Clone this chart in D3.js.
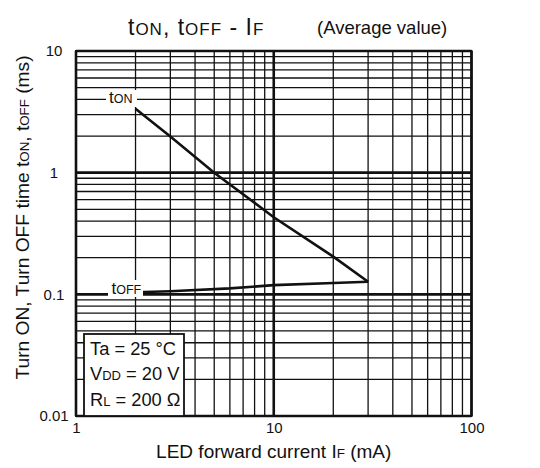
<!DOCTYPE html>
<html>
<head>
<meta charset="utf-8">
<script src="https://cdn.jsdelivr.net/npm/d3@7"></script>
<style>
  body { margin: 0; background: #fff; }
  svg { display: block; font-family: "Liberation Sans", Arial, Helvetica, sans-serif; }
</style>
</head>
<body>
<svg id="chart"></svg>
<script>
// values
const currentTicks = [1, 10, 100];            // IF (mA)
const timeTicks = [0.01, 0.1, 1, 10];         // t (ms)
const tonCurrent = [2, 3, 5, 10, 20, 30];
const tonTime = [3.35, 1.98, 1.0, 0.43, 0.204, 0.127];
const toffCurrent = [2, 3, 6, 10, 20, 30];
const toffTime = [0.104, 0.106, 0.112, 0.119, 0.124, 0.127];
const conditions = [["Ta", "", " = 25 °C"], ["V", "DD", " = 20 V"], ["R", "L", " = 200 Ω"]];

const width = 540, height = 468;
const margin = {left: 76, right: 68.5, top: 51, bottom: 52};

const svg = d3.select("#chart")
    .attr("width", width)
    .attr("height", height)
    .attr("viewBox", [0, 0, width, height]);

const x = d3.scaleLog().domain([1, 100]).range([margin.left, width - margin.right]);
const y = d3.scaleLog().domain([0.01, 10]).range([height - margin.bottom, margin.top]);

const isMajor = v => Math.abs(Math.log10(v) - Math.round(Math.log10(v))) < 1e-9;

// grid
const grid = svg.append("g").attr("stroke", "#111");
grid.selectAll("line.v")
    .data(x.ticks())
    .join("line")
    .attr("class", "v")
    .attr("x1", d => x(d)).attr("x2", d => x(d))
    .attr("y1", y.range()[0]).attr("y2", y.range()[1])
    .attr("stroke-width", d => isMajor(d) ? 2.6 : 1.3);
grid.selectAll("line.h")
    .data(y.ticks())
    .join("line")
    .attr("class", "h")
    .attr("y1", d => y(d)).attr("y2", d => y(d))
    .attr("x1", x.range()[0]).attr("x2", x.range()[1])
    .attr("stroke-width", d => isMajor(d) ? 2.6 : 1.3);

// frame
svg.append("rect")
    .attr("x", x.range()[0]).attr("y", y.range()[1])
    .attr("width", x.range()[1] - x.range()[0])
    .attr("height", y.range()[0] - y.range()[1])
    .attr("fill", "none").attr("stroke", "#111").attr("stroke-width", 2);

// curves
const line = d3.line().x(d => x(d[0])).y(d => y(d[1]));
svg.append("path")
    .attr("d", line(d3.zip(tonCurrent, tonTime)))
    .attr("fill", "none").attr("stroke", "#111").attr("stroke-width", 2.6);
svg.append("path")
    .attr("d", line(d3.zip(toffCurrent, toffTime)))
    .attr("fill", "none").attr("stroke", "#111").attr("stroke-width", 2.6);

// axes (labels only)
const xAxis = svg.append("g")
    .attr("transform", `translate(0,${y.range()[0]})`)
    .call(d3.axisBottom(x).tickValues(currentTicks).tickSize(0).tickPadding(6).tickFormat(d => d));
xAxis.select(".domain").remove();
xAxis.selectAll("text").attr("font-size", 15).attr("font-family", null).attr("fill", "#111");

const yAxis = svg.append("g")
    .attr("transform", `translate(${margin.left},0)`)
    .call(d3.axisLeft(y).tickValues(timeTicks).tickSize(0).tickFormat(d => d));
yAxis.select(".domain").remove();
yAxis.selectAll("text").attr("font-size", 15).attr("font-family", null).attr("fill", "#111")
    .attr("x", -22).attr("text-anchor", "middle");

// helper: text with smaller "subscript" parts
function richText(g, parts, big, small) {
    parts.forEach(([s, isSmall]) => {
        g.append("tspan").attr("font-size", isSmall ? small : big).text(s);
    });
    return g;
}

// curve labels with white background
function curveLabel(tx, ty, rect, parts) {
    svg.append("rect")
        .attr("x", rect[0]).attr("y", rect[1]).attr("width", rect[2]).attr("height", rect[3])
        .attr("fill", "#fff");
    richText(svg.append("text").attr("x", tx).attr("y", ty).attr("fill", "#111"), parts, 17, 12.5);
}
curveLabel(109, 103, [106, 90, 31, 17], [["t", false], ["ON", true]]);
curveLabel(111.5, 294, [108, 280, 35, 17], [["t", false], ["OFF", true]]);

// conditions box
svg.append("rect")
    .attr("x", 84).attr("y", 334).attr("width", 100).attr("height", 82)
    .attr("fill", "#fff").attr("stroke", "#111").attr("stroke-width", 1.8);
conditions.forEach((c, i) => {
    richText(svg.append("text").attr("x", 90).attr("y", 355 + i * 25.3).attr("fill", "#111"),
        [[c[0], false], [c[1], true], [c[2], false]], 18.3, 13);
});

// title
richText(svg.append("text").attr("x", 128).attr("y", 35).attr("fill", "#111").attr("letter-spacing", 1),
    [["t", false], ["ON", true], [", t", false], ["OFF", true], [" - I", false], ["F", true]], 23, 17);
svg.append("text")
    .attr("x", 317).attr("y", 34).attr("font-size", 18.5).attr("fill", "#111")
    .text("(Average value)");

// axis titles
richText(svg.append("text")
        .attr("x", (x.range()[0] + x.range()[1]) / 2).attr("y", 458)
        .attr("text-anchor", "middle").attr("fill", "#111"),
    [["LED forward current I", false], ["F", true], [" (mA)", false]], 19, 13.5);

richText(svg.append("text")
        .attr("transform", "translate(29,217.5) rotate(-90)")
        .attr("text-anchor", "middle").attr("fill", "#111"),
    [["Turn ON, Turn OFF time t", false], ["ON", true], [", t", false], ["OFF", true], [" (ms)", false]], 19.2, 13.3);
</script>
</body>
</html>
